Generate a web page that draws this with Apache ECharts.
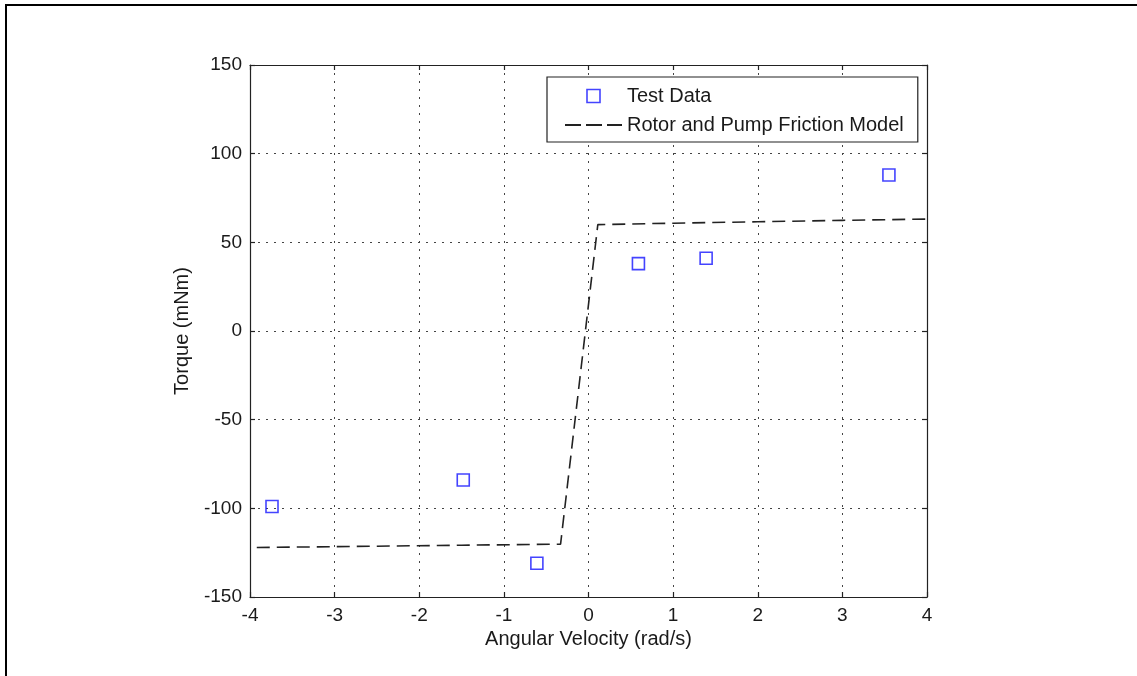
<!DOCTYPE html>
<html>
<head>
<meta charset="utf-8">
<title>Torque vs Angular Velocity</title>
<script src="https://cdn.jsdelivr.net/npm/echarts@6/dist/echarts.min.js"></script>
<style>
  html, body { margin: 0; padding: 0; background: #fff; }
  #chart { width: 1137px; height: 676px; }
</style>
</head>
<body>
<div id="chart"></div>
<script>
// Measured torque at several angular velocities: [rad/s, mNm]
const testData = [
  [-3.74, -99], [-1.48, -84], [-0.61, -131],
  [0.59, 38], [1.39, 41], [3.55, 88]
];

// Rotor and pump friction model (Coulomb + viscous), breakpoints: [rad/s, mNm]
const frictionModel = [
  [-3.92, -122.1], [-2.8, -121.5], [-1.5, -120.8], [-0.33, -120.2],
  [0.11, 60.0], [1.0, 60.8], [2.0, 61.6], [3.0, 62.4], [4.0, 63.1]
];

const seriesNames = ['Test Data', 'Rotor and Pump Friction Model'];
const xRange = { min: -4, max: 4, interval: 1 };
const yRange = { min: -150, max: 150, interval: 50 };
const xTitle = 'Angular Velocity (rad/s)';
const yTitle = 'Torque (mNm)';

const FONT = '"Liberation Sans", Arial, sans-serif';
const INK = '#1a1a1a';

const gridDots = { show: true, lineStyle: { color: '#444', width: 1, type: [2, 6] } };
const frameLine = { show: true, onZero: false, lineStyle: { color: '#222', width: 1.2 } };
const innerTick = { show: true, inside: true, length: 5, lineStyle: { color: '#222', width: 1.2 } };

// legend glyphs: hollow square marker and a three-dash line sample
const squareIcon = 'path://M0,0h10v10h-10z';
const dashIcon = 'path://M0,0h16v2h-16z M21,0h16v2h-16z M42,0h15v2h-15z';

const chart = echarts.init(document.getElementById('chart'), null, { renderer: 'canvas' });

chart.setOption({
  backgroundColor: '#ffffff',
  animation: false,
  grid: { left: 250, top: 65, right: 210, bottom: 79, containLabel: false },
  xAxis: [
    {
      type: 'value', position: 'bottom', ...xRange,
      axisLine: frameLine, axisTick: innerTick, splitLine: gridDots,
      axisLabel: { color: INK, fontSize: 19, fontFamily: FONT, margin: 9 },
      name: xTitle, nameLocation: 'middle', nameGap: 29,
      nameTextStyle: { color: INK, fontSize: 20, fontFamily: FONT }
    },
    {
      type: 'value', position: 'top', ...xRange,
      axisLine: frameLine, axisTick: innerTick,
      axisLabel: { show: false }, splitLine: { show: false }
    }
  ],
  yAxis: [
    {
      type: 'value', position: 'left', ...yRange,
      axisLine: frameLine, axisTick: innerTick, splitLine: gridDots,
      axisLabel: { color: INK, fontSize: 19, fontFamily: FONT, margin: 8 },
      name: yTitle, nameLocation: 'middle', nameGap: 58, nameRotate: 90,
      nameTextStyle: { color: INK, fontSize: 20, fontFamily: FONT }
    },
    {
      type: 'value', position: 'right', ...yRange,
      axisLine: frameLine, axisTick: innerTick,
      axisLabel: { show: false }, splitLine: { show: false }
    }
  ],
  legend: {
    orient: 'vertical',
    left: 547, top: 77,
    padding: [9, 14, 7, 18],
    itemGap: 9,
    itemWidth: 57, itemHeight: 13,
    symbolKeepAspect: true,
    borderColor: '#222', borderWidth: 1.2, borderRadius: 0,
    backgroundColor: '#fff',
    textStyle: { color: INK, fontSize: 20, fontFamily: FONT },
    data: [
      { name: seriesNames[0], icon: squareIcon,
        itemStyle: { color: 'rgba(0,0,0,0)', borderColor: '#1515ff', borderWidth: 1.6 } },
      { name: seriesNames[1], icon: dashIcon,
        itemStyle: { color: '#222', borderWidth: 0 } }
    ]
  },
  series: [
    {
      name: seriesNames[0],
      type: 'scatter',
      data: testData,
      symbol: 'rect',
      symbolSize: 12,
      itemStyle: { color: 'rgba(0,0,0,0)', borderColor: '#1515ff', borderWidth: 1.6 },
      z: 3
    },
    {
      name: seriesNames[1],
      type: 'line',
      data: frictionModel,
      showSymbol: false,
      symbol: 'none',
      lineStyle: { color: '#222', width: 1.6, type: [13, 7] },
      itemStyle: { color: '#222' },
      z: 2
    }
  ],
  graphic: [
    // outer figure frame (top and left edges)
    { type: 'line', shape: { x1: 5, y1: 5, x2: 1137, y2: 5 }, style: { stroke: '#000', lineWidth: 2 }, silent: true },
    { type: 'line', shape: { x1: 6, y1: 5, x2: 6, y2: 676 }, style: { stroke: '#000', lineWidth: 2 }, silent: true }
  ]
});
</script>
</body>
</html>
